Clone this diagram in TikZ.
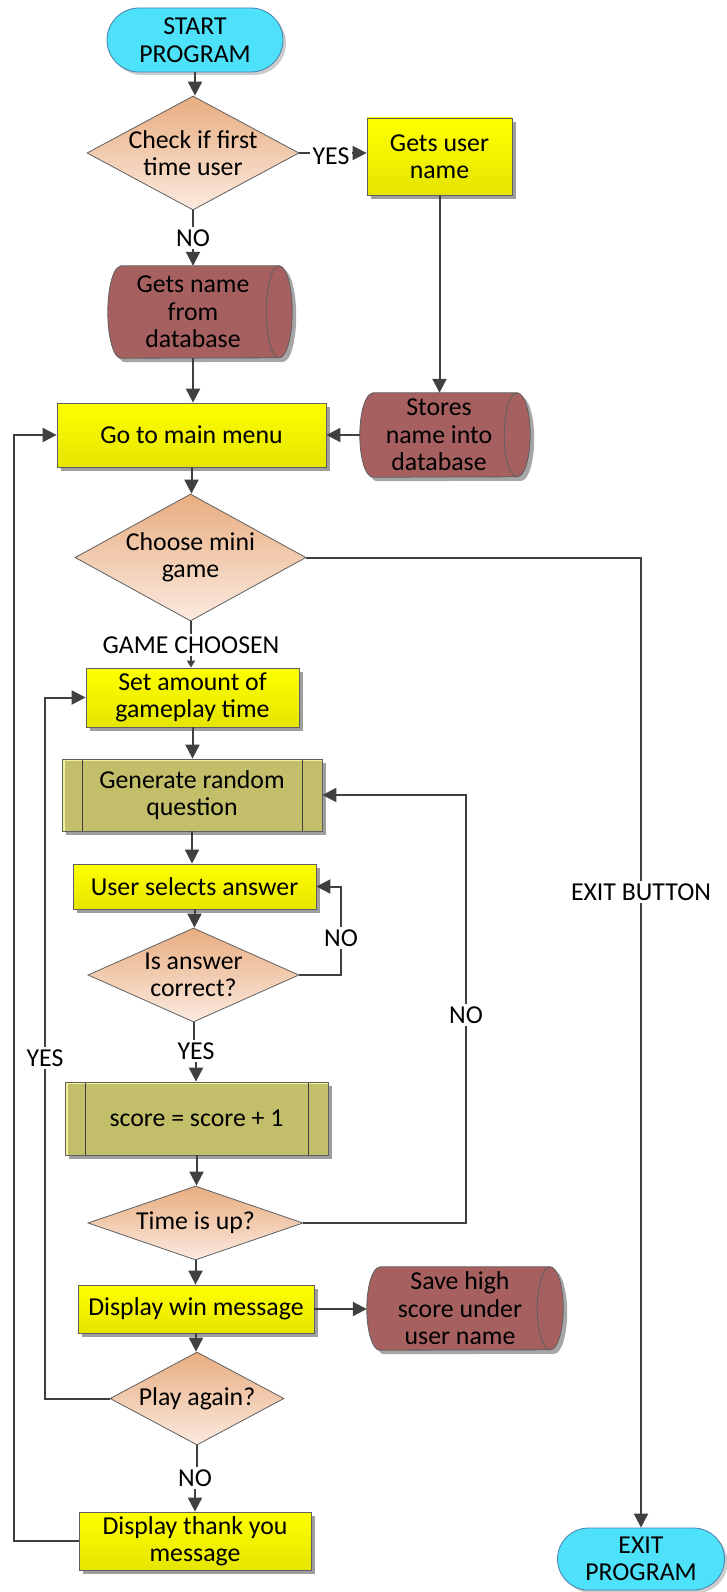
\documentclass[tikz,border=0pt]{standalone}
\usepackage{fontspec}
\setmainfont{Carlito}
\usetikzlibrary{shapes.geometric,shapes.misc,arrows.meta,shadows,backgrounds}

\definecolor{termfill}{HTML}{4DE1FA}
\definecolor{termline}{HTML}{4A7FAE}
\definecolor{dtop}{HTML}{E8AD80}
\definecolor{dbot}{HTML}{FBEADF}
\definecolor{ytop}{HTML}{FFFF00}
\definecolor{ybot}{HTML}{E5E500}
\definecolor{dbred}{HTML}{A66060}
\definecolor{predeffill}{HTML}{C2BE6A}
\definecolor{predefhl}{HTML}{F2F29A}
\definecolor{conn}{HTML}{404040}
\definecolor{edgegray}{HTML}{5F5F5F}

% horizontal storage drum around a body node (#2 = half height in pt)
\newcommand\dbdraw[2]{%
  \fill[black!35] ([xshift=4pt,yshift=-4pt]#1.north west) -- ([xshift=4pt,yshift=-4pt]#1.north east)
    arc[start angle=90,end angle=-90,x radius=13pt,y radius=#2pt]
    -- ([xshift=4pt,yshift=-4pt]#1.south west)
    arc[start angle=270,end angle=90,x radius=13pt,y radius=#2pt] -- cycle;
  \draw[draw=edgegray,line width=0.8pt,fill=dbred] (#1.north west) -- (#1.north east)
    arc[start angle=90,end angle=-90,x radius=13pt,y radius=#2pt]
    -- (#1.south west)
    arc[start angle=270,end angle=90,x radius=13pt,y radius=#2pt] -- cycle;
  \draw[draw=edgegray,line width=0.8pt] (#1.north east)
    arc[start angle=90,end angle=270,x radius=13pt,y radius=#2pt];
}

\begin{document}
\begin{tikzpicture}[x=1pt,y=-1pt,
  every node/.style={font=\fontsize{25.8}{27.5}\selectfont, text=black},
  boxshadow/.style={drop shadow={shadow xshift=4pt,shadow yshift=-4pt,fill=black!38,opacity=1}},
  terminal/.style={rounded rectangle, draw=termline, line width=0.8pt, fill=termfill,
    align=center, inner sep=0pt,
    drop shadow={shadow xshift=3pt,shadow yshift=-3pt,fill=black!20,opacity=1}},
  decision/.style={diamond, draw=edgegray, line width=0.8pt, top color=dtop, bottom color=dbot, inner sep=0pt},
  process/.style={rectangle, draw=edgegray, line width=0.8pt, top color=ytop, bottom color=ybot,
    align=center, inner sep=0pt, boxshadow},
  predef/.style={rectangle, draw=edgegray, line width=0.8pt, fill=predeffill, align=center,
    inner sep=0pt, boxshadow,
    path picture={
      \fill[predefhl] (path picture bounding box.north west) rectangle ([xshift=3pt]path picture bounding box.south west);
      \fill[predefhl] (path picture bounding box.north west) rectangle ([yshift=-2pt]path picture bounding box.north east);
      \draw[black!75, line width=0.8pt]
        ([xshift=20pt]path picture bounding box.north west) -- ([xshift=20pt]path picture bounding box.south west)
        ([xshift=-20pt]path picture bounding box.north east) -- ([xshift=-20pt]path picture bounding box.south east);
    }},
  dbase/.style={rectangle, inner sep=0pt},
  lbl/.style={inner sep=2pt, fill=white},
  ln/.style={draw=conn, line width=2pt},
  arr/.style={ln, -{Triangle[length=14pt,width=14pt]}},
  sarr/.style={ln, -{Triangle[length=7pt,width=8pt]}},
]
\useasboundingbox (0,0) rectangle (727,1592);

% ---- shapes ----
\node[terminal, minimum width=176pt, minimum height=64pt] (start) at (195,40) {START\\PROGRAM};
\node[decision, minimum width=212pt, minimum height=114pt,
  label={[align=center]center:Check if first\\time user}] (d1) at (193,153) {};
\node[process, minimum width=145pt, minimum height=77pt] (gun) at (439.5,156.5) {Gets user\\name};
\node[dbase, minimum width=158pt, minimum height=92pt,
  label={[align=center,xshift=-7pt]center:Gets name\\from\\database}] (db1) at (200,312) {};
\node[process, minimum width=269pt, minimum height=64pt] (mm) at (191.5,435) {Go to main menu};
\node[dbase, minimum width=144pt, minimum height=84pt,
  label={[align=center,xshift=-6pt]center:Stores\\name into\\database}] (db2) at (445,435) {};
\node[decision, minimum width=231pt, minimum height=127pt,
  label={[align=center]center:Choose mini\\game}] (d2) at (190.5,557.5) {};
\node[terminal, minimum width=167pt, minimum height=62pt] (exit) at (641,1559) {EXIT\\PROGRAM};
\node[process, minimum width=213pt, minimum height=59pt] (setamt) at (192.5,697.5) {Set amount of\\gameplay time};
\node[predef, minimum width=260pt, minimum height=72pt] (grq) at (192,795) {Generate random\\question};
\node[process, minimum width=243pt, minimum height=45pt] (usa) at (194.5,886.5) {User selects answer};
\node[decision, minimum width=211pt, minimum height=94pt,
  label={[align=center]center:Is answer\\correct?}] (d3) at (193.5,975) {};
\node[predef, minimum width=263pt, minimum height=73pt] (score) at (196.5,1118.5) {score = score + 1};
\node[decision, minimum width=215pt, minimum height=74pt,
  label={center:Time is up?}] (d4) at (195.5,1223) {};
\node[process, minimum width=236pt, minimum height=48pt] (dwm) at (196,1309) {Display win message};
\node[dbase, minimum width=170pt, minimum height=83pt,
  label={[align=center,xshift=-5pt]center:Save high\\score under\\user name}] (db3) at (465,1308.5) {};
\node[decision, minimum width=174pt, minimum height=93pt,
  label={center:Play again?}] (d5) at (197,1398.5) {};
\node[process, minimum width=232pt, minimum height=58pt] (dty) at (195,1541) {Display thank you\\message};

% ---- connector labels ----
\node[lbl] (yes1) at (331,156) {YES};
\node[lbl] (no1) at (193,238) {NO};
\node[lbl] (gc) at (191,645) {GAME CHOOSEN};
\node[lbl] (exb) at (641,892) {EXIT BUTTON};
\node[lbl] (no2) at (341,938) {NO};
\node[lbl] (yes3) at (196,1051) {YES};
\node[lbl] (no4) at (466,1015) {NO};
\node[lbl] (yes5) at (45,1058) {YES};
\node[lbl] (no5) at (195,1478) {NO};
\coordinate (lrail) at (14,0);

% ---- storage drums and page background ----
\begin{scope}[on background layer]
  \fill[white] (0,0) rectangle (727,1592);
  \dbdraw{db1}{46}
  \dbdraw{db2}{42}
  \dbdraw{db3}{41.5}
\end{scope}

% ---- connectors ----
\draw[arr] (start.south) -- (start.south |- d1.north);
\draw[ln] (d1.east) -- (d1.east -| yes1.west);
\draw[arr] (yes1.east |- d1.east) -- (d1.east -| gun.west);
\draw[ln] (d1.south) -- (d1.south |- no1.north);
\draw[arr] (no1.south) -- (no1.south |- db1.north);
\draw[arr] (gun.south) -- (gun.south |- db2.north);
\draw[arr] ([xshift=-7pt]db1.south) -- ([xshift=-7pt]db1.south |- mm.north);
\draw[arr] ([xshift=-13pt]db2.west) -- (mm.east);
\draw[arr] (mm.south) -- (mm.south |- d2.north);
\draw[ln] (d2.east) -| (exb.north);
\draw[arr] (exb.south) -- (exit.north);
\draw[ln] (d2.south) -- (d2.south |- gc.north);
\draw[sarr] (gc.south) -- (gc.south |- setamt.north);
\draw[arr] (setamt.south) -- (setamt.south |- grq.north);
\draw[arr] (grq.south) -- (grq.south |- usa.north);
\draw[arr] (usa.south) -- (usa.south |- d3.north);
\draw[ln] (d3.east) -| (no2.south);
\draw[arr] (no2.north) |- (usa.east);
\draw[ln] (d3.south) -- (d3.south |- yes3.north);
\draw[arr] (yes3.south) -- (yes3.south |- score.north);
\draw[arr] (score.south) -- (score.south |- d4.north);
\draw[ln] (d4.east) -| (no4.south);
\draw[arr] (no4.north) |- (grq.east);
\draw[arr] (d4.south) -- (d4.south |- dwm.north);
\draw[arr] (dwm.east) -- ([xshift=-13pt]db3.west |- dwm.east);
\draw[arr] (dwm.south) -- (dwm.south |- d5.north);
\draw[ln] (d5.west) -| (yes5.south);
\draw[arr] (yes5.north) |- (setamt.west);
\draw[ln] (d5.south) -- (d5.south |- no5.north);
\draw[arr] (no5.south) -- (no5.south |- dty.north);
\draw[arr] (dty.west) -- (dty.west -| lrail) |- (mm.west);
\end{tikzpicture}
\end{document}
